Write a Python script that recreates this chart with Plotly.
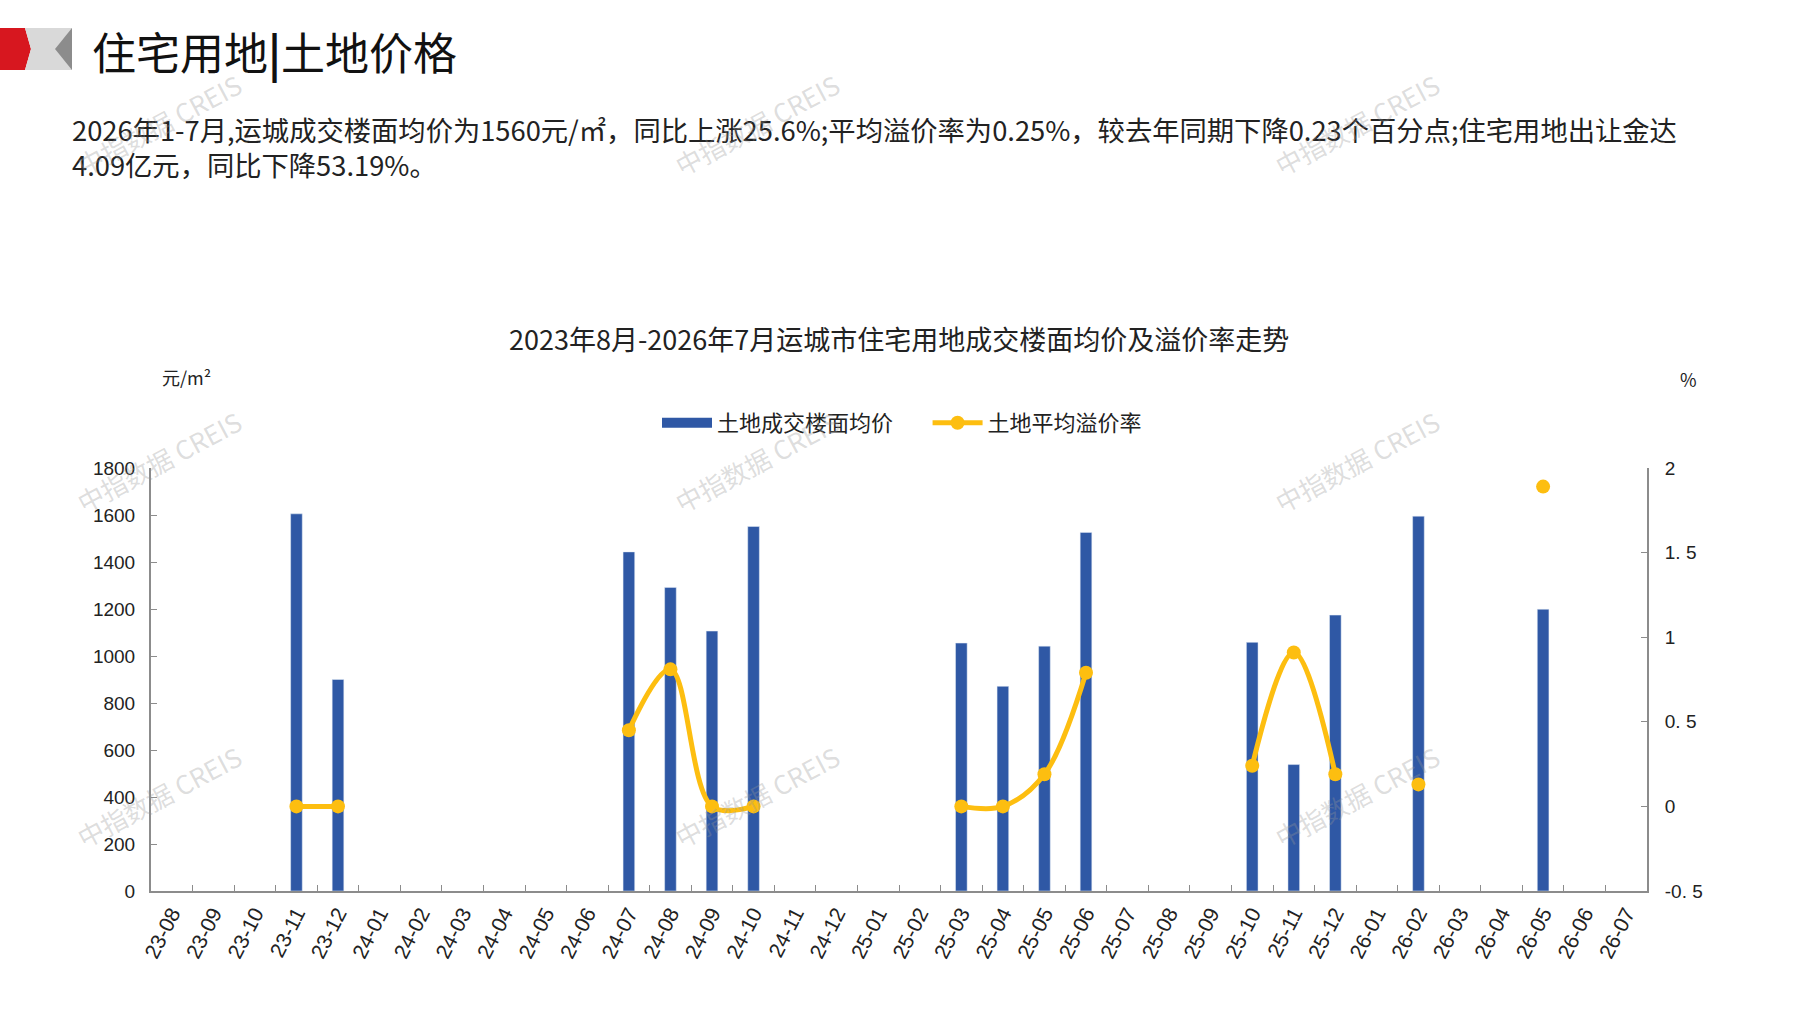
import plotly.graph_objects as go

# months 23-08 .. 26-07
months = ['23-08', '23-09', '23-10', '23-11', '23-12',
          '24-01', '24-02', '24-03', '24-04', '24-05', '24-06', '24-07', '24-08', '24-09', '24-10', '24-11', '24-12',
          '25-01', '25-02', '25-03', '25-04', '25-05', '25-06', '25-07', '25-08', '25-09', '25-10', '25-11', '25-12',
          '26-01', '26-02', '26-03', '26-04', '26-05', '26-06', '26-07']

# land floor price (元/m²), None = no deal
floor_price = [None, None, None, 1605, 900,
               None, None, None, None, None, None, 1443, 1292, 1106, 1551, None, None,
               None, None, 1055, 871, 1042, 1526, None, None, None, 1058, 538, 1174,
               None, 1595, None, None, 1199, None, None]

# average premium rate (%)
premium_rate = [None, None, None, 0.0, 0.0,
                None, None, None, None, None, None, 0.45, 0.81, 0.0, 0.0, None, None,
                None, None, 0.0, 0.0, 0.19, 0.79, None, None, None, 0.24, 0.91, 0.19,
                None, 0.13, None, None, 1.89, None, None]

rate_ticks = [-0.5, 0, 0.5, 1, 1.5, 2]
rate_tick_text = ['-0. 5', '0', '0. 5', '1', '1. 5', '2']

W, H = 1797, 1010
L, R, T, B = 151, 150, 468, 119
pw, ph = W - L - R, H - T - B

def px(x):
    return (x - L) / pw

def py(y):
    return (H - B - y) / ph

cjk = 'Noto Sans CJK SC'
num_font = 'Liberation Sans, Arial, ' + cjk
blue = '#2F58A5'
gold = '#FDBE10'
axis_grey = '#8C8C8C'
nb = '\u00a0'

fig = go.Figure()
fig.add_trace(go.Bar(x=months, y=floor_price, name='土地成交楼面均价',
                     marker_color=blue, width=0.28, yaxis='y', showlegend=False))
# legend stand-in so the bar key is drawn as a wide block
fig.add_trace(go.Scatter(x=[None], y=[None], name='土地成交楼面均价' + nb * 6, mode='lines',
                         line=dict(color=blue, width=14), yaxis='y'))
fig.add_trace(go.Scatter(x=months, y=premium_rate, name='土地平均溢价率',
                         mode='lines+markers', line=dict(color=gold, width=5, shape='spline'),
                         marker=dict(size=14, color=gold), connectgaps=False, yaxis='y2'))

def note(text, x, y, size, xanchor='center', yanchor='middle', **kw):
    return dict(text=text, x=px(x), y=py(y), xref='paper', yref='paper', xanchor=xanchor,
                yanchor=yanchor, showarrow=False,
                font=dict(size=size, color=kw.pop('color', '#222222'), family=cjk), **kw)

annotations = [
    note('住宅用地<b>|</b>土地价格', 90, 51, 44, xanchor='left', color='#111111'),
    note('2026年1-7月,运城成交楼面均价为1560元/㎡，同比上涨25.6%;平均溢价率为0.25%，较去年同期下降0.23个百分点;住宅用地出让金达'
         '<br>4.09亿元，同比下降53.19%。', 70, 146, 27.3, xanchor='left', align='left'),
    note('2023年8月-2026年7月运城市住宅用地成交楼面均价及溢价率走势', 899, 338, 27),
    note('元/m²', 186, 377, 18),
    note('%', 1688, 379, 18),
]

# watermarks
for wx in [158, 756, 1356]:
    for wy in [124, 461, 796]:
        annotations.append(note('中指数据 CREIS', wx, wy, 26, textangle=-28,
                                color='rgba(150,150,150,0.33)'))

shapes = [
    # header logo: red block and grey triangles
    dict(type='path', xref='paper', yref='paper', layer='above',
         path=f'M {px(0)} {py(28)} L {px(25)} {py(28)} L {px(31)} {py(49)} L {px(25)} {py(70)} L {px(0)} {py(70)} Z',
         fillcolor='#D7171F', line_width=0),
    dict(type='path', xref='paper', yref='paper', layer='above',
         path=f'M {px(25)} {py(28)} L {px(72)} {py(28)} L {px(72)} {py(70)} L {px(25)} {py(70)} L {px(31)} {py(49)} Z',
         fillcolor='#D9D9D9', line_width=0),
    dict(type='path', xref='paper', yref='paper', layer='above',
         path=f'M {px(72)} {py(28)} L {px(72)} {py(70)} L {px(55)} {py(49)} Z',
         fillcolor='#8C8C8C', line_width=0),
]

fig.update_layout(
    width=W, height=H,
    margin=dict(l=L, r=R, t=T, b=B, autoexpand=False),
    paper_bgcolor='white', plot_bgcolor='white',
    showlegend=True,
    legend=dict(orientation='h', x=px(902), xanchor='center', y=py(423), yanchor='middle',
                font=dict(size=22, color='#222222', family=cjk), itemwidth=50,
                tracegroupgap=0),
    xaxis=dict(type='category', categoryorder='array', categoryarray=months, range=[-0.5, 35.5],
               tickangle=-63, showline=True, linecolor=axis_grey, linewidth=2,
               ticks='inside', tickson='boundaries', ticklen=6, tickcolor=axis_grey,
               showgrid=False, tickfont=dict(size=21, color='#222222', family=num_font)),
    yaxis=dict(range=[0, 1800], dtick=200, showline=True, linecolor=axis_grey, linewidth=2,
               ticks='inside', ticklen=6, tickcolor=axis_grey, showgrid=False, zeroline=False,
               ticklabelstandoff=10,
               tickfont=dict(size=19, color='#222222', family=num_font)),
    yaxis2=dict(range=[-0.5, 2], tickmode='array', tickvals=rate_ticks, ticktext=rate_tick_text,
                overlaying='y', side='right', showline=True,
                linecolor=axis_grey, linewidth=2, ticks='inside', ticklen=6, tickcolor=axis_grey,
                showgrid=False, zeroline=False, ticklabelstandoff=12,
                tickfont=dict(size=19, color='#222222', family=num_font)),
    annotations=annotations,
    shapes=shapes,
)

fig.write_html('out.html', config={'displayModeBar': False},
               post_script="document.body.style.margin='0';")
